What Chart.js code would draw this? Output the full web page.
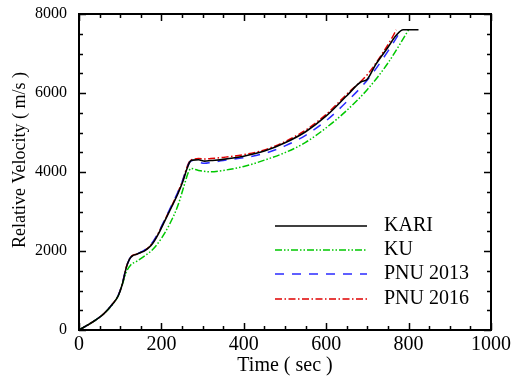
<!DOCTYPE html>
<html><head><meta charset="utf-8">
<script src="https://cdn.jsdelivr.net/npm/chart.js@4/dist/chart.umd.min.js"></script>
<style>html,body{margin:0;padding:0;background:#fff;}</style>
</head><body>
<canvas id="c" width="511" height="379"></canvas>
<script>
// ---- data ----
const xTickValues = [0, 200, 400, 600, 800, 1000];
const yTickValues = [0, 2000, 4000, 6000, 8000];
const seriesNames = ['KARI', 'KU', 'PNU 2013', 'PNU 2016'];

const kariTime = [0, 20, 40, 60, 80, 95, 105, 115, 123, 130, 140, 150, 160, 170, 180, 195, 210, 225, 240, 252, 262, 270, 276, 290, 305, 320, 350, 400, 450, 500, 550, 600, 650, 686, 698, 720, 750, 770, 787, 824];
const kariVel  = [0, 120, 250, 410, 640, 860, 1150, 1590, 1800, 1880, 1915, 1960, 2010, 2090, 2210, 2480, 2800, 3120, 3450, 3760, 4080, 4270, 4300, 4310, 4275, 4290, 4320, 4400, 4530, 4740, 5020, 5420, 5930, 6290, 6330, 6720, 7160, 7460, 7600, 7600];

const kuTime = [0, 20, 40, 60, 80, 95, 105, 115, 125, 140, 160, 180, 200, 220, 240, 255, 265, 272, 290, 318, 350, 400, 450, 500, 550, 600, 650, 700, 750, 800];
const kuVel  = [0, 120, 250, 410, 630, 860, 1150, 1470, 1640, 1740, 1880, 2050, 2320, 2680, 3150, 3650, 3980, 4090, 4040, 4005, 4040, 4140, 4300, 4490, 4750, 5120, 5560, 6090, 6760, 7600];

const pnu13Time = [0, 20, 40, 60, 80, 95, 105, 115, 123, 130, 140, 150, 160, 170, 180, 195, 210, 225, 240, 252, 262, 270, 276, 290, 305, 320, 350, 400, 450, 500, 550, 600, 650, 700, 750, 770, 782];
const pnu13Vel  = [0, 120, 250, 410, 640, 870, 1170, 1600, 1800, 1890, 1925, 1970, 2030, 2120, 2240, 2510, 2840, 3160, 3490, 3800, 4110, 4270, 4290, 4250, 4220, 4240, 4290, 4360, 4470, 4660, 4930, 5300, 5780, 6330, 7060, 7390, 7600];

const pnu16Time = [0, 20, 40, 60, 80, 95, 105, 115, 123, 130, 140, 150, 160, 170, 180, 195, 210, 225, 240, 252, 262, 270, 276, 290, 305, 320, 350, 400, 450, 500, 550, 600, 650, 700, 740, 760, 770];
const pnu16Vel  = [0, 120, 250, 410, 640, 870, 1170, 1600, 1810, 1890, 1920, 1965, 2020, 2100, 2230, 2500, 2820, 3140, 3480, 3800, 4120, 4300, 4320, 4340, 4330, 4340, 4370, 4440, 4560, 4770, 5060, 5460, 5970, 6470, 7060, 7400, 7600];

const toXY = (ts, vs) => ts.map((t, i) => ({x: t, y: vs[i]}));

const SERIF = '"Liberation Serif", "Times New Roman", serif';

const frameAndLegend = {
  id: 'frameAndLegend',
  afterDraw(chart) {
    const ctx = chart.ctx;
    const xs = chart.scales.x, ys = chart.scales.y;
    const {left, right, top, bottom} = chart.chartArea;
    ctx.save();
    ctx.strokeStyle = '#000';
    // ticks
    ctx.lineWidth = 1.5;
    for (let v = 0; v <= 1000; v += 50) {
      const px = Math.round(xs.getPixelForValue(v)) + 0.5;
      const len = v % 200 === 0 ? 7 : 4;
      ctx.beginPath();
      ctx.moveTo(px, bottom); ctx.lineTo(px, bottom - len);
      ctx.moveTo(px, top); ctx.lineTo(px, top + len);
      ctx.stroke();
    }
    for (let v = 0; v <= 8000; v += 500) {
      const py = Math.round(ys.getPixelForValue(v)) + 0.5;
      const len = v % 2000 === 0 ? 7 : 4;
      ctx.beginPath();
      ctx.moveTo(left, py); ctx.lineTo(left + len, py);
      ctx.moveTo(right, py); ctx.lineTo(right - len, py);
      ctx.stroke();
    }
    // frame
    ctx.lineWidth = 2;
    ctx.strokeRect(left, top, right - left, bottom - top);
    // axis titles
    ctx.fillStyle = '#000';
    ctx.font = '20px ' + SERIF;
    ctx.textAlign = 'center';
    ctx.textBaseline = 'middle';
    ctx.fillText('Time ( sec )', (left + right) / 2, 366);
    ctx.save();
    ctx.translate(20, 160);
    ctx.rotate(-Math.PI / 2);
    ctx.font = '18px ' + SERIF;
    ctx.fillText('Relative Velocity ( m/s )', 0, 0);
    ctx.restore();
    // legend
    const rows = [226, 250, 274, 299];
    ctx.font = '20px ' + SERIF;
    ctx.textAlign = 'left';
    chart.data.datasets.forEach((ds, i) => {
      const y = rows[i];
      ctx.save();
      ctx.strokeStyle = ds.borderColor;
      ctx.lineWidth = ds.borderWidth;
      ctx.setLineDash(ds.borderDash || []);
      ctx.beginPath();
      ctx.moveTo(275, y); ctx.lineTo(367, y);
      ctx.stroke();
      ctx.restore();
      ctx.fillStyle = '#000';
      ctx.fillText(ds.label, 384, y);
    });
    ctx.restore();
  }
};

new Chart(document.getElementById('c'), {
  type: 'line',
  data: {
    datasets: [
      {label: seriesNames[0], data: toXY(kariTime, kariVel), borderColor: '#000000', borderWidth: 1.6, borderDash: []},
      {label: seriesNames[1], data: toXY(kuTime, kuVel), borderColor: '#00c800', borderWidth: 1.5, borderDash: [7, 2, 1.5, 2, 1.5, 2]},
      {label: seriesNames[2], data: toXY(pnu13Time, pnu13Vel), borderColor: '#2b2bff', borderWidth: 1.5, borderDash: [9, 8]},
      {label: seriesNames[3], data: toXY(pnu16Time, pnu16Vel), borderColor: '#e00000', borderWidth: 1.5, borderDash: [7, 2.5, 1.5, 2.5]}
    ].map(d => Object.assign(d, {pointRadius: 0, fill: false, cubicInterpolationMode: 'monotone'}))
  },
  options: {
    responsive: false,
    animation: false,
    layout: {padding: {left: 0, right: 20, top: 14, bottom: 0}},
    plugins: {legend: {display: false}, tooltip: {enabled: false}},
    scales: {
      x: {
        type: 'linear', min: 0, max: 1000,
        afterBuildTicks: s => { s.ticks = xTickValues.map(v => ({value: v})); },
        afterFit: s => { s.height = 49; s.paddingLeft = 0; s.paddingRight = 0; },
        grid: {display: false, drawTicks: false},
        border: {display: false},
        ticks: {color: '#000', font: {family: SERIF, size: 20}, padding: 3, maxRotation: 0, callback: v => String(v)}
      },
      y: {
        type: 'linear', min: 0, max: 8000,
        afterBuildTicks: s => { s.ticks = yTickValues.map(v => ({value: v})); },
        afterFit: s => { s.width = 79; s.paddingTop = 0; s.paddingBottom = 0; },
        grid: {display: false, drawTicks: false},
        border: {display: false},
        ticks: {color: '#000', font: {family: SERIF, size: 16}, padding: 12, callback: v => String(v)}
      }
    }
  },
  plugins: [frameAndLegend]
});
</script>
</body></html>
